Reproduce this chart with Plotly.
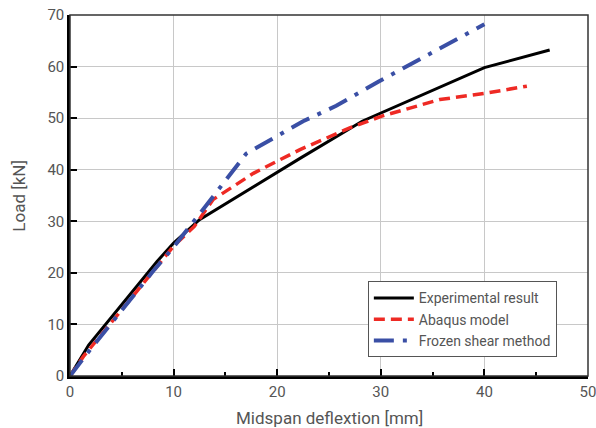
import plotly.graph_objects as go

# Experimental result
exp_x = [0, 1.8, 8.4, 10, 12.5, 17.7, 22.2, 28.2, 40.0, 46.3]
exp_y = [0, 6.0, 22.2, 25.8, 30.3, 36.7, 42.2, 49.4, 59.8, 63.2]
# Abaqus model
aba_x = [0, 1.3, 5.8, 8.1, 10, 12, 13.8, 17.7, 22.2, 27.0, 30.1, 35.7, 40.0, 44.1]
aba_y = [0, 3.8, 14.8, 20.6, 25.2, 29.0, 34.2, 39.3, 43.9, 48.1, 50.4, 53.6, 54.8, 56.2]
# Frozen shear method
fsm_x = [0, 1.9, 8.05, 10, 13.2, 17.0, 22.5, 25.7, 29.8, 40.0]
fsm_y = [0, 5.0, 20.4, 25.0, 33.2, 43.1, 49.4, 52.4, 57.1, 68.2]

names = ["Experimental result", "Abaqus model", "Frozen shear method"]
x_ticks = [0, 10, 20, 30, 40, 50]
y_ticks = [0, 10, 20, 30, 40, 50, 60, 70]

fig = go.Figure()
fig.add_trace(go.Scatter(x=exp_x, y=exp_y, mode="lines", name=names[0],
                         line=dict(color="#000000", width=3)))
fig.add_trace(go.Scatter(x=aba_x, y=aba_y, mode="lines", name=names[1],
                         line=dict(color="#ee2a24", width=3.5, dash="11px,6px")))
fig.add_trace(go.Scatter(x=fsm_x, y=fsm_y, mode="lines", name=names[2],
                         line=dict(color="#3a4fa5", width=4, dash="20px,9px,4px,9px")))

font_fam = "Roboto, Open Sans, sans-serif"
fig.update_layout(
    width=596, height=428,
    margin=dict(l=70, r=8, t=15, b=52),
    paper_bgcolor="white", plot_bgcolor="white",
    font=dict(family=font_fam, color="#555555", size=14),
    showlegend=True,
    legend=dict(x=0.575, y=0.262, xanchor="left", yanchor="top",
                bgcolor="white", bordercolor="#555555", borderwidth=1,
                font=dict(size=14, color="#555555"),
                itemwidth=40, tracegroupgap=0),
    xaxis=dict(range=[0, 50], tickvals=x_ticks, ticks="inside", ticklen=7,
               tickwidth=2, tickcolor="black", automargin=False,
               ticklabeloverflow="allow",
               minor=dict(ticks="inside", ticklen=4, tickwidth=2, tickcolor="black", dtick=5, showgrid=False),
               showline=True, linecolor="black", linewidth=2.5,
               showgrid=True, gridcolor="#c8c8c8", gridwidth=1, zeroline=False,
               tickfont=dict(size=15, color="#555555")),
    yaxis=dict(range=[0, 70], tickvals=y_ticks, ticks="inside", ticklen=7,
               tickwidth=2, tickcolor="black", automargin=False,
               ticklabeloverflow="allow",
               showline=True, linecolor="black", linewidth=2.5,
               showgrid=True, gridcolor="#c8c8c8", gridwidth=1, zeroline=False,
               tickfont=dict(size=15, color="#555555")),
    annotations=[
        dict(text="Midspan deflextion [mm]", xref="paper", yref="paper", x=0.5, y=-0.116,
             xanchor="center", yanchor="middle", showarrow=False,
             font=dict(size=17, color="#555555")),
        dict(text="Load [kN]", xref="paper", yref="paper", x=-0.1, y=0.5, textangle=-90,
             xanchor="center", yanchor="middle", showarrow=False,
             font=dict(size=17, color="#555555")),
    ],
    shapes=[dict(type="rect", xref="paper", yref="paper", x0=0, x1=1, y0=0, y1=1,
                 line=dict(color="#333333", width=1.5), layer="above")],
)

fig.write_html("out.html", config={"displayModeBar": False},
               post_script="document.body.style.margin='0';document.body.style.overflow='hidden';")
